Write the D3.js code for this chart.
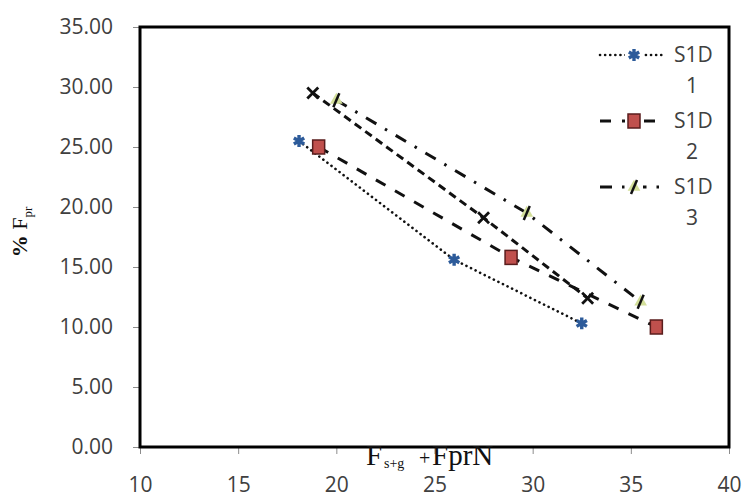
<!DOCTYPE html>
<html>
<head>
<meta charset="utf-8">
<script src="https://cdn.jsdelivr.net/npm/d3@7"></script>
<style>
  body { margin: 0; background: #fff; }
  svg { display: block; }
</style>
</head>
<body>
<div id="chart"></div>
<script>
// data
const seriesNames = ["S1D 1", "S1D 2", "S1D 3", "S1D 4"];
const s1x = [18.1, 26.0, 32.5];
const s1y = [25.5, 15.6, 10.3];
const s2x = [19.1, 28.9, 36.3];
const s2y = [25.0, 15.8, 10.0];
const s3x = [20.0, 29.7, 35.5];
const s3y = [28.9, 19.5, 12.1];
const s4x = [18.8, 27.5, 32.8];
const s4y = [29.5, 19.1, 12.4];
const xTicks = [10, 15, 20, 25, 30, 35, 40];
const yTicks = [0, 5, 10, 15, 20, 25, 30, 35];

const W = 744, H = 500;
const svg = d3.select("#chart").append("svg")
    .attr("width", W).attr("height", H);

const x = d3.scaleLinear().domain([10, 40]).range([140, 729]);
const y = d3.scaleLinear().domain([0, 35]).range([447, 27]);

const tickFont = "'Open Sans', 'Liberation Sans', sans-serif";
const serif = "'Liberation Serif', 'DejaVu Serif', serif";

// y axis ticks + labels
const yAxis = svg.append("g")
    .attr("transform", "translate(140,0)")
    .call(d3.axisLeft(y).tickValues(yTicks).tickSize(7).tickPadding(20)
        .tickFormat(d3.format(".2f")));
yAxis.select(".domain").remove();
yAxis.selectAll("line").attr("stroke", "#8c8c8c");
yAxis.selectAll("text").attr("font-family", tickFont).attr("font-size", 21)
    .attr("fill", "#404040");

// x axis ticks + labels (labels sit well below the frame)
const xAxis = svg.append("g")
    .attr("transform", "translate(0,447)")
    .call(d3.axisBottom(x).tickValues(xTicks).tickSize(7).tickPadding(23));
xAxis.select(".domain").remove();
xAxis.selectAll("line").attr("stroke", "#8c8c8c");
xAxis.selectAll("text").attr("font-family", tickFont).attr("font-size", 21)
    .attr("fill", "#404040");

// series
const series = [
    {name: seriesNames[0], xs: s1x, ys: s1y, dash: "0.1 5", w: 2.6, cap: "round", mark: "star"},
    {name: seriesNames[1], xs: s2x, ys: s2y, dash: "11 11", w: 3, cap: "butt", mark: "square"},
    {name: seriesNames[2], xs: s3x, ys: s3y, dash: "12 10 2.5 10", w: 3, cap: "butt", mark: "tri"},
    {name: seriesNames[3], xs: s4x, ys: s4y, dash: "8 5", w: 3, cap: "butt", mark: "x"}
];

const line = d3.line().x(d => x(d[0])).y(d => y(d[1]));

function drawMark(g, kind) {
    if (kind == "star") {
        g.append("path").attr("d", d3.symbol(d3.symbolAsterisk, 100)())
            .attr("stroke", "#2d5b9a").attr("stroke-width", 3.4).attr("fill", "none");
    } else if (kind == "square") {
        g.append("rect").attr("x", -6).attr("y", -7).attr("width", 12).attr("height", 14)
            .attr("fill", "#c0504d").attr("stroke", "#5a1d1d").attr("stroke-width", 1.5);
    } else if (kind == "tri") {
        g.append("path").attr("d", d3.symbol(d3.symbolTriangle, 70)())
            .attr("fill", "#d3df9a");
        g.append("line").attr("x1", -3).attr("y1", 7).attr("x2", 3).attr("y2", -7)
            .attr("stroke", "#111").attr("stroke-width", 2.5);
    } else {
        g.append("path").attr("d", d3.symbol(d3.symbolX, 80)())
            .attr("stroke", "#111").attr("stroke-width", 2.8).attr("fill", "none");
    }
}

series.forEach(s => {
    const pts = s.xs.map((v, i) => [v, s.ys[i]]);
    svg.append("path")
        .attr("d", line(pts))
        .attr("fill", "none")
        .attr("stroke", "#111")
        .attr("stroke-width", s.w)
        .attr("stroke-linecap", s.cap)
        .attr("stroke-dasharray", s.dash);
    pts.forEach(p => {
        const g = svg.append("g").attr("transform", `translate(${x(p[0])},${y(p[1])})`);
        drawMark(g, s.mark);
    });
});

// frame
svg.append("rect")
    .attr("x", 140).attr("y", 27)
    .attr("width", 729 - 140).attr("height", 447 - 27)
    .attr("fill", "none").attr("stroke", "#000").attr("stroke-width", 3);

// legend (only three entries are visible)
const leg = svg.append("g").attr("transform", "translate(600,0)");
series.slice(0, 3).forEach((s, i) => {
    const yy = 55 + i * 66;
    leg.append("line").attr("x1", 0).attr("x2", 64).attr("y1", yy).attr("y2", yy)
        .attr("stroke", "#111").attr("stroke-width", s.w)
        .attr("stroke-linecap", s.cap).attr("stroke-dasharray", s.dash);
    const g = leg.append("g").attr("transform", `translate(34,${yy})`);
    g.append("rect").attr("x", -9).attr("y", -9).attr("width", 18).attr("height", 18).attr("fill", "#fff");
    drawMark(g, s.mark);
    const parts = s.name.split(" ");
    leg.append("text").attr("x", 74).attr("y", yy).attr("dy", "0.35em")
        .attr("font-family", tickFont).attr("font-size", 21).attr("fill", "#404040")
        .text(parts[0]);
    leg.append("text").attr("x", 86).attr("y", yy + 31).attr("dy", "0.35em")
        .attr("font-family", tickFont).attr("font-size", 21).attr("fill", "#404040")
        .text(parts[1]);
});

// axis titles
const xt = svg.append("text")
    .attr("y", 465)
    .attr("font-family", serif)
    .attr("font-size", 29).attr("fill", "#111");
xt.append("tspan").attr("x", 366).text("F");
xt.append("tspan").attr("x", 384).attr("font-size", 14).attr("dy", 3).text("s+g");
xt.append("tspan").attr("x", 419).attr("dy", -3).attr("font-size", 20).text("+");
xt.append("tspan").attr("x", 432).text("FprN");

const yt = svg.append("text")
    .attr("transform", "translate(27,232) rotate(-90)")
    .attr("text-anchor", "middle")
    .attr("font-family", serif)
    .attr("font-size", 22).attr("fill", "#111");
yt.append("tspan").attr("font-weight", "bold").text("% ");
yt.append("tspan").text("F");
yt.append("tspan").attr("font-size", 13).attr("dy", 5).text("pr");
</script>
</body>
</html>
